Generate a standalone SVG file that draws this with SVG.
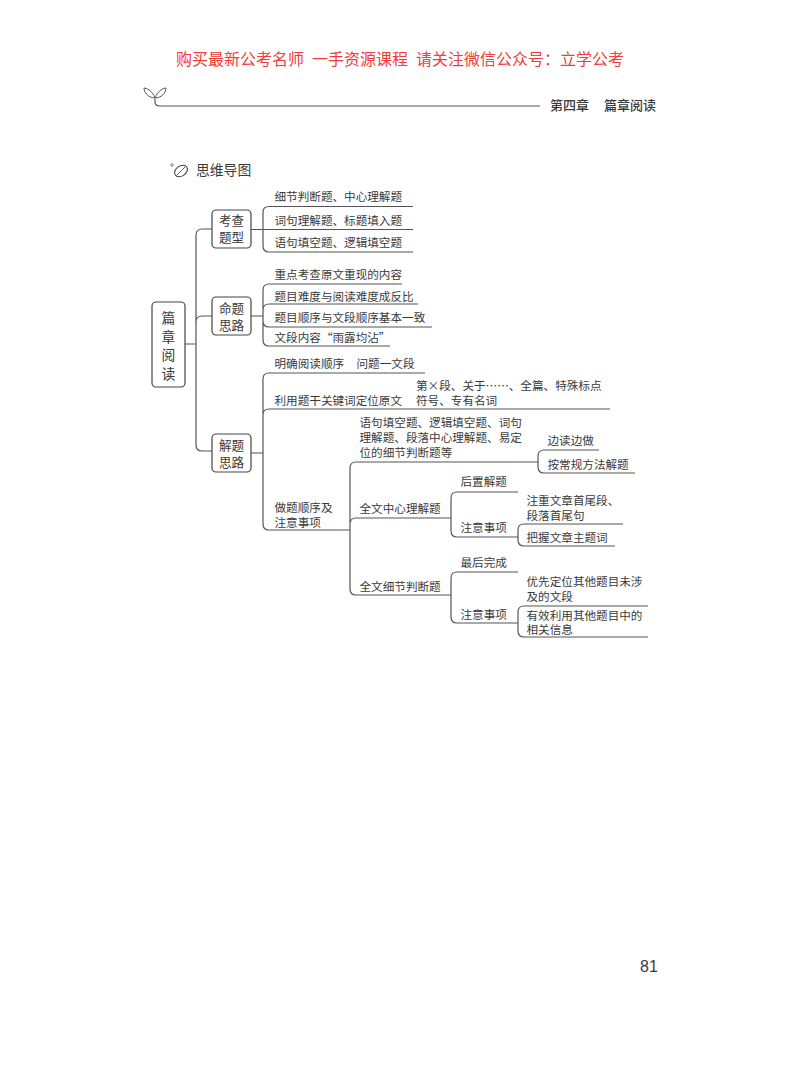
<svg xmlns="http://www.w3.org/2000/svg" width="800" height="1084" viewBox="0 0 800 1084">
<style>
text{font-family:"Noto Sans CJK SC","Liberation Sans",sans-serif;fill:#3a3a3a;font-weight:400}
.l{font-size:11.6px;dominant-baseline:central}
.b{font-size:12.6px;text-anchor:middle;dominant-baseline:central}
.r{font-size:13.8px;text-anchor:middle;dominant-baseline:central}
.box{fill:#fff;stroke:#444;stroke-width:1.2}
.c{fill:none;stroke:#555;stroke-width:1.2}
</style>
<rect width="800" height="1084" fill="#fff"/>
<g id="banner"><text y="65" font-size="16" style="fill:#f23b3b"><tspan x="176">购买最新公考名师</tspan><tspan x="312">一手资源课程</tspan><tspan x="416">请关注微信公众号：立学公考</tspan></text></g>
<g id="header">
<path class="c" d="M155 99V102Q155 106 160 106H540"/>
<path class="c" style="stroke-width:1" d="M155 98C152 90 146 88 144 88C144 93 149 98 155 98ZM155 98C158 90 164 88 166 88C166 93 161 98 155 98Z"/>
<text x="550" y="110" font-size="13" style="font-weight:500">第四章</text>
<text x="604" y="110" font-size="13" style="font-weight:500">篇章阅读</text>
</g>
<g id="title">
<circle cx="172" cy="165" r="1.3" fill="none" stroke="#555" stroke-width=".7"/>
<ellipse cx="181" cy="171" rx="7" ry="5" fill="none" stroke="#444" stroke-width="1.1" transform="rotate(-35 181 171)"/>
<path class="c" style="stroke-width:.9" d="M177 175L185 167"/>
<text x="196" y="175" font-size="13.8">思维导图</text>
</g>
<g id="connectors">
<path class="c" d="M185 344H196M212 229H202Q196 229 196 235V445Q196 451 202 451H212M196 322Q196 316 202 316H212"/>
<path class="c" d="M251 229.500H413M263 229.500V212Q263 206.500 269 206.500H413M263 229.500V246Q263 252 269 252H413"/>
<path class="c" d="M251 316H263M402 284H269Q263 284 263 290V340Q263 346 269 346H390M263 310Q263 304 269 304H418M263 321Q263 327 269 327H432"/>
<path class="c" d="M251 453H263M425 373H269Q263 373 263 379V524Q263 530 269 530H350M263 415Q263 409 269 409H610"/>
<path class="c" d="M350 530V468Q350 462 356 462H538M350 530V524Q350 518 356 518H451M350 530V589Q350 595 356 595H451"/>
<path class="c" d="M538 462V456Q538 450 544 450H599M538 462V467Q538 473 544 473H635"/>
<path class="c" d="M518 492H457Q451 492 451 498V531Q451 537 457 537H518"/>
<path class="c" d="M518 537V530Q518 524 524 524H623M518 537V540Q518 546 524 546H615"/>
<path class="c" d="M518 572H457Q451 572 451 578V617Q451 623 457 623H518"/>
<path class="c" d="M518 623V612Q518 606 524 606H648M518 623V631Q518 637 524 637H648"/>
</g>
<g id="root"><rect class="box" x="152" y="302" width="33" height="85" rx="4"/><text class="r" x="168.500" y="317">篇</text><text class="r" x="168.500" y="335.500">章</text><text class="r" x="168.500" y="354">阅</text><text class="r" x="168.500" y="372.500">读</text></g>
<g id="n-kaocha"><rect class="box" x="212" y="210" width="39" height="38" rx="4"/><text class="b" x="231.500" y="219.500">考查</text><text class="b" x="231.500" y="236.500">题型</text></g>
<g id="n-mingti"><rect class="box" x="212" y="297" width="39" height="38" rx="4"/><text class="b" x="231.500" y="307.500">命题</text><text class="b" x="231.500" y="324.500">思路</text></g>
<g id="n-jieti"><rect class="box" x="212" y="434" width="39" height="38" rx="4"/><text class="b" x="231.500" y="444.500">解题</text><text class="b" x="231.500" y="461.500">思路</text></g>
<g id="leaves-kaocha" transform="translate(-0.500,-1)">
<text class="l" x="275" y="197">细节判断题、中心理解题</text>
<text class="l" x="275" y="220.500">词句理解题、标题填入题</text>
<text class="l" x="275" y="243">语句填空题、逻辑填空题</text>
</g>
<g id="leaves-mingti" transform="translate(-0.500,-1)">
<text class="l" x="275" y="275">重点考查原文重现的内容</text>
<text class="l" x="275" y="296.500">题目难度与阅读难度成反比</text>
<text class="l" x="275" y="317.500">题目顺序与文段顺序基本一致</text>
<text class="l" x="275" y="338">文段内容“雨露均沾”</text>
</g>
<g id="leaves-jieti" transform="translate(-0.500,-1)">
<text class="l" x="275" y="364">明确阅读顺序</text><text class="l" x="357" y="364">问题一文段</text>
<text class="l" x="275" y="401">利用题干关键词定位原文</text>
<text class="l" x="416.500" y="386">第×段、关于……、全篇、特殊标点</text>
<text class="l" x="416.500" y="400.500">符号、专有名词</text>
<text class="l" x="275" y="508">做题顺序及</text>
<text class="l" x="275" y="523">注意事项</text>
</g>
<g id="leaves-order" transform="translate(-0.500,-1)">
<text class="l" x="360" y="423">语句填空题、逻辑填空题、词句</text>
<text class="l" x="360" y="438">理解题、段落中心理解题、易定</text>
<text class="l" x="360" y="452.500">位的细节判断题等</text>
<text class="l" x="548" y="441">边读边做</text>
<text class="l" x="548" y="464.500">按常规方法解题</text>
</g>
<g id="leaves-center" transform="translate(-0.500,-1)">
<text class="l" x="360" y="509">全文中心理解题</text>
<text class="l" x="461" y="482">后置解题</text>
<text class="l" x="461" y="528">注意事项</text>
<text class="l" x="527" y="501.300">注重文章首尾段、</text>
<text class="l" x="527" y="515.700">段落首尾句</text>
<text class="l" x="527" y="537.500">把握文章主题词</text>
</g>
<g id="leaves-detail" transform="translate(-0.500,-1)">
<text class="l" x="360" y="587">全文细节判断题</text>
<text class="l" x="461" y="562.500">最后完成</text>
<text class="l" x="461" y="615">注意事项</text>
<text class="l" x="527" y="582">优先定位其他题目未涉</text>
<text class="l" x="527" y="596.500">及的文段</text>
<text class="l" x="527" y="615.500">有效利用其他题目中的</text>
<text class="l" x="527" y="630">相关信息</text>
</g>
<g id="page"><text x="640" y="972" font-size="16" style="font-family:'Liberation Sans',sans-serif">81</text></g>
</svg>
